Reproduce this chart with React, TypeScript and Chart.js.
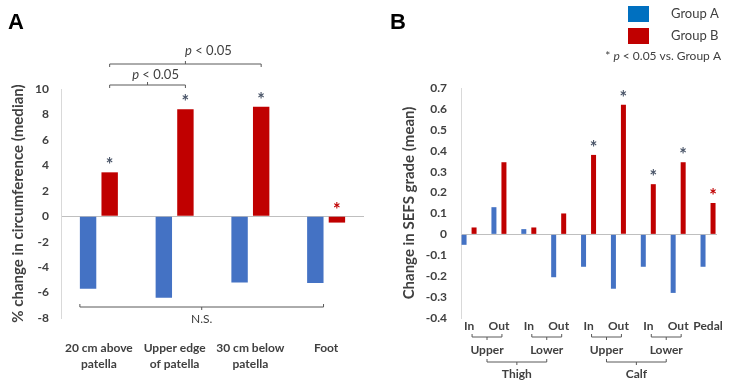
import React, { useEffect, useRef } from 'react';
import { Chart, registerables } from 'chart.js';

Chart.register(...registerables);

// ---------- Data: Panel A ----------
const sitesA: (string | string[])[] = [
  ['20 cm above', 'patella'],
  ['Upper edge', 'of patella'],
  ['30 cm below', 'patella'],
  ['Foot'],
];
const circGroupA = [-5.7, -6.4, -5.2, -5.25];
const circGroupB = [3.45, 8.4, 8.6, -0.5];
const sigCircB = [true, true, true, true];
const yMinA = -8;
const yMaxA = 10;
const yStepA = 2;

// ---------- Data: Panel B ----------
const regionsB = ['In', 'Out', 'In', 'Out', 'In', 'Out', 'In', 'Out', 'Pedal'];
const sefsGroupA = [-0.05, 0.13, 0.025, -0.205, -0.155, -0.26, -0.155, -0.28, -0.155];
const sefsGroupB = [0.033, 0.345, 0.033, 0.1, 0.38, 0.62, 0.24, 0.345, 0.15];
const sigSefsB = [false, false, false, false, true, true, true, true, true];
const levelLabels = ['Upper', 'Lower', 'Upper', 'Lower'];
const segmentLabels = ['Thigh', 'Calf'];
const yMinB = -0.4;
const yMaxB = 0.7;
const yStepB = 0.1;

// ---------- Styles ----------
const FONT = 'Lato, "Open Sans", sans-serif';
const PANEL_FONT = '"Liberation Sans", Arial, sans-serif';
const TEXT = '#404040';
const BAR_BLUE = '#4472C4';
const BAR_RED = '#C00000';
const LEG_BLUE = '#0070C0';
const AST = '#4A5568';
const LINE = '#595959';

function bracket(ctx: CanvasRenderingContext2D, x1: number, x2: number, y: number, endDir: number, midDir: number, len = 3) {
  ctx.save();
  ctx.strokeStyle = LINE;
  ctx.lineWidth = 1;
  ctx.beginPath();
  ctx.moveTo(x1, y + endDir * len);
  ctx.lineTo(x1, y);
  ctx.lineTo(x2, y);
  ctx.lineTo(x2, y + endDir * len);
  const mx = (x1 + x2) / 2;
  ctx.moveTo(mx, y);
  ctx.lineTo(mx, y + midDir * len);
  ctx.stroke();
  ctx.restore();
}

function drawParts(ctx: CanvasRenderingContext2D, parts: [string, string][], x: number, y: number, align: 'center' | 'right' | 'left') {
  ctx.save();
  ctx.textBaseline = 'middle';
  ctx.textAlign = 'left';
  let total = 0;
  for (const [t, f] of parts) { ctx.font = f; total += ctx.measureText(t).width; }
  let cx = align === 'center' ? x - total / 2 : align === 'right' ? x - total : x;
  for (const [t, f] of parts) { ctx.font = f; ctx.fillText(t, cx, y); cx += ctx.measureText(t).width; }
  ctx.restore();
}

function text(ctx: CanvasRenderingContext2D, t: string, x: number, y: number, font: string, color = TEXT, align: CanvasTextAlign = 'center') {
  ctx.save();
  ctx.font = font;
  ctx.fillStyle = color;
  ctx.textAlign = align;
  ctx.textBaseline = 'middle';
  ctx.fillText(t, x, y);
  ctx.restore();
}

const AST_FONT = `bold 18px ${FONT}`;

const annotA = {
  id: 'annotA',
  afterDraw(chart: any) {
    const ctx = chart.ctx as CanvasRenderingContext2D;
    const mA = chart.getDatasetMeta(0).data;
    const mB = chart.getDatasetMeta(1).data;
    ctx.save();
    ctx.font = `bold 22px ${PANEL_FONT}`;
    ctx.fillStyle = '#000';
    ctx.textAlign = 'left';
    ctx.textBaseline = 'alphabetic';
    ctx.fillText('A', 8, 29);
    ctx.restore();
    mB.forEach((el: any, i: number) => {
      if (!sigCircB[i]) return;
      const top = Math.min(el.y, el.base);
      text(ctx, '*', el.x, top - 7, AST_FONT, i === mB.length - 1 ? BAR_RED : AST);
    });
    ctx.fillStyle = TEXT;
    const x0 = mB[0].x, x1 = mB[1].x, x2 = mB[2].x;
    bracket(ctx, x0, x1, 85, 1, -1);
    drawParts(ctx, [['p', `italic 13px ${FONT}`], [' < 0.05', `13px ${FONT}`]], (x0 + x1) / 2 + 8, 75, 'center');
    bracket(ctx, x0, x2, 64, 1, -1);
    drawParts(ctx, [['p', `italic 13px ${FONT}`], [' < 0.05', `13px ${FONT}`]], (x0 + x2) / 2 + 23, 51, 'center');
    const l = mA[0].x - mA[0].width / 2;
    const r = mA[mA.length - 1].x + mA[mA.length - 1].width / 2;
    bracket(ctx, l, r, 307, -1, 1);
    text(ctx, 'N.S.', (l + r) / 2, 319, `12px ${FONT}`);
  },
};

const annotB = {
  id: 'annotB',
  afterDraw(chart: any) {
    const ctx = chart.ctx as CanvasRenderingContext2D;
    const mB = chart.getDatasetMeta(1).data;
    const xs = chart.scales.x;
    ctx.save();
    ctx.font = `bold 22px ${PANEL_FONT}`;
    ctx.fillStyle = '#000';
    ctx.textAlign = 'left';
    ctx.textBaseline = 'alphabetic';
    ctx.fillText('B', 20, 29);
    ctx.restore();
    mB.forEach((el: any, i: number) => {
      if (!sigSefsB[i]) return;
      const top = Math.min(el.y, el.base);
      text(ctx, '*', el.x, top - 7, AST_FONT, i === mB.length - 1 ? BAR_RED : AST);
    });
    const centers: number[] = [];
    levelLabels.forEach((lab, p) => {
      const a = xs.getPixelForValue(2 * p) + 3;
      const b = xs.getPixelForValue(2 * p + 1) + 3;
      bracket(ctx, a, b, 337, -1, 1);
      centers.push((a + b) / 2);
      text(ctx, lab, (a + b) / 2, 350, `bold 12px ${FONT}`);
    });
    segmentLabels.forEach((lab, s) => {
      const a = centers[2 * s];
      const b = centers[2 * s + 1];
      bracket(ctx, a, b, 362, -1, 1);
      text(ctx, lab, (a + b) / 2, 374, `bold 12px ${FONT}`);
    });
    const ds = chart.data.datasets;
    const legColors = [LEG_BLUE, BAR_RED];
    ds.forEach((d: any, i: number) => {
      const y = 6 + i * 22;
      ctx.fillStyle = legColors[i];
      ctx.fillRect(258, y, 21, 16);
      text(ctx, d.label, 301, y + 8, `13px ${FONT}`, TEXT, 'left');
    });
    ctx.fillStyle = TEXT;
    drawParts(ctx, [['* ', `12px ${FONT}`], ['p', `italic 12px ${FONT}`], [' < 0.05 vs. Group A', `12px ${FONT}`]], 351, 56, 'right');
  },
};

const zeroGrid = (c: any) => (c.tick && Math.abs(c.tick.value) < 1e-9 ? '#BFBFBF' : 'rgba(0,0,0,0)');

function ChartA() {
  const ref = useRef<HTMLCanvasElement>(null);
  useEffect(() => {
    const chart = new Chart(ref.current!, {
      type: 'bar',
      data: {
        labels: sitesA as any,
        datasets: [
          { label: 'Group A', data: circGroupA, backgroundColor: BAR_BLUE, categoryPercentage: 0.57, barPercentage: 0.76 },
          { label: 'Group B', data: circGroupB, backgroundColor: BAR_RED, categoryPercentage: 0.57, barPercentage: 0.76 },
        ],
      },
      options: {
        responsive: false,
        animation: false,
        layout: { padding: { left: 0, right: 6, top: 89, bottom: 0 } },
        plugins: { legend: { display: false }, tooltip: { enabled: false } },
        scales: {
          x: {
            grid: { display: false, drawTicks: false },
            border: { display: false },
            ticks: { padding: 22, color: TEXT, maxRotation: 0, autoSkip: false, font: { family: FONT, size: 12, weight: 'bold', lineHeight: 1.33 } },
            afterFit: (s: any) => { s.height = 71; },
          },
          y: {
            min: yMinA,
            max: yMaxA,
            ticks: { stepSize: yStepA, padding: 12, color: TEXT, font: { family: FONT, size: 12, weight: 'bold' } },
            grid: { drawTicks: false, color: zeroGrid, lineWidth: 1 },
            border: { color: '#D9D9D9' },
            title: { display: true, text: '% change in circumference (median)', color: TEXT, font: { family: FONT, size: 15, weight: 'bold' }, padding: { top: 9, bottom: 0 } },
            afterFit: (s: any) => { s.width = 61; },
          },
        },
      } as any,
      plugins: [annotA],
    });
    return () => chart.destroy();
  }, []);
  return <canvas ref={ref} width={370} height={389} style={{ position: 'absolute', left: 0, top: 0, width: 370, height: 389 }} />;
}

function ChartB() {
  const ref = useRef<HTMLCanvasElement>(null);
  useEffect(() => {
    const chart = new Chart(ref.current!, {
      type: 'bar',
      data: {
        datasets: [
          { label: 'Group A', data: sefsGroupA.map((v, i) => ({ x: i, y: v })), backgroundColor: BAR_BLUE, categoryPercentage: 0.67, barPercentage: 0.5 },
          { label: 'Group B', data: sefsGroupB.map((v, i) => ({ x: i, y: v })), backgroundColor: BAR_RED, categoryPercentage: 0.67, barPercentage: 0.5 },
        ],
      },
      options: {
        responsive: false,
        animation: false,
        layout: { padding: { left: 0, right: 15, top: 88, bottom: 0 } },
        plugins: { legend: { display: false }, tooltip: { enabled: false } },
        scales: {
          x: {
            type: 'linear',
            min: -0.27,
            max: 8.3,
            offset: false,
            grid: { display: false, drawTicks: false },
            border: { display: false },
            afterBuildTicks: (s: any) => { s.ticks = regionsB.map((_, i) => ({ value: i })); },
            ticks: {
              padding: 1,
              color: TEXT,
              maxRotation: 0,
              autoSkip: false,
              font: { family: FONT, size: 12, weight: 'bold' },
              callback: (v: any) => regionsB[v] ?? '',
            },
            afterFit: (s: any) => { s.height = 71; },
          },
          y: {
            min: yMinB,
            max: yMaxB,
            ticks: {
              stepSize: yStepB,
              padding: 14,
              color: TEXT,
              font: { family: FONT, size: 12, weight: 'bold' },
              callback: (v: any) => String(Math.round(v * 10) / 10),
            },
            grid: { drawTicks: false, color: zeroGrid, lineWidth: 1 },
            border: { color: '#D9D9D9' },
            title: { display: true, text: 'Change in SEFS grade (mean)', color: TEXT, font: { family: FONT, size: 15, weight: 'bold' }, padding: { top: 30, bottom: 0 } },
            afterFit: (s: any) => { s.width = 91; },
          },
        },
      } as any,
      plugins: [annotB],
    });
    return () => chart.destroy();
  }, []);
  return <canvas ref={ref} width={362} height={389} style={{ position: 'absolute', left: 370, top: 0, width: 362, height: 389 }} />;
}

export default function App() {
  return (
    <div style={{ position: 'absolute', left: 0, top: 0, width: 732, height: 389, background: '#fff', overflow: 'hidden' }}>
      <ChartA />
      <ChartB />
    </div>
  );
}
